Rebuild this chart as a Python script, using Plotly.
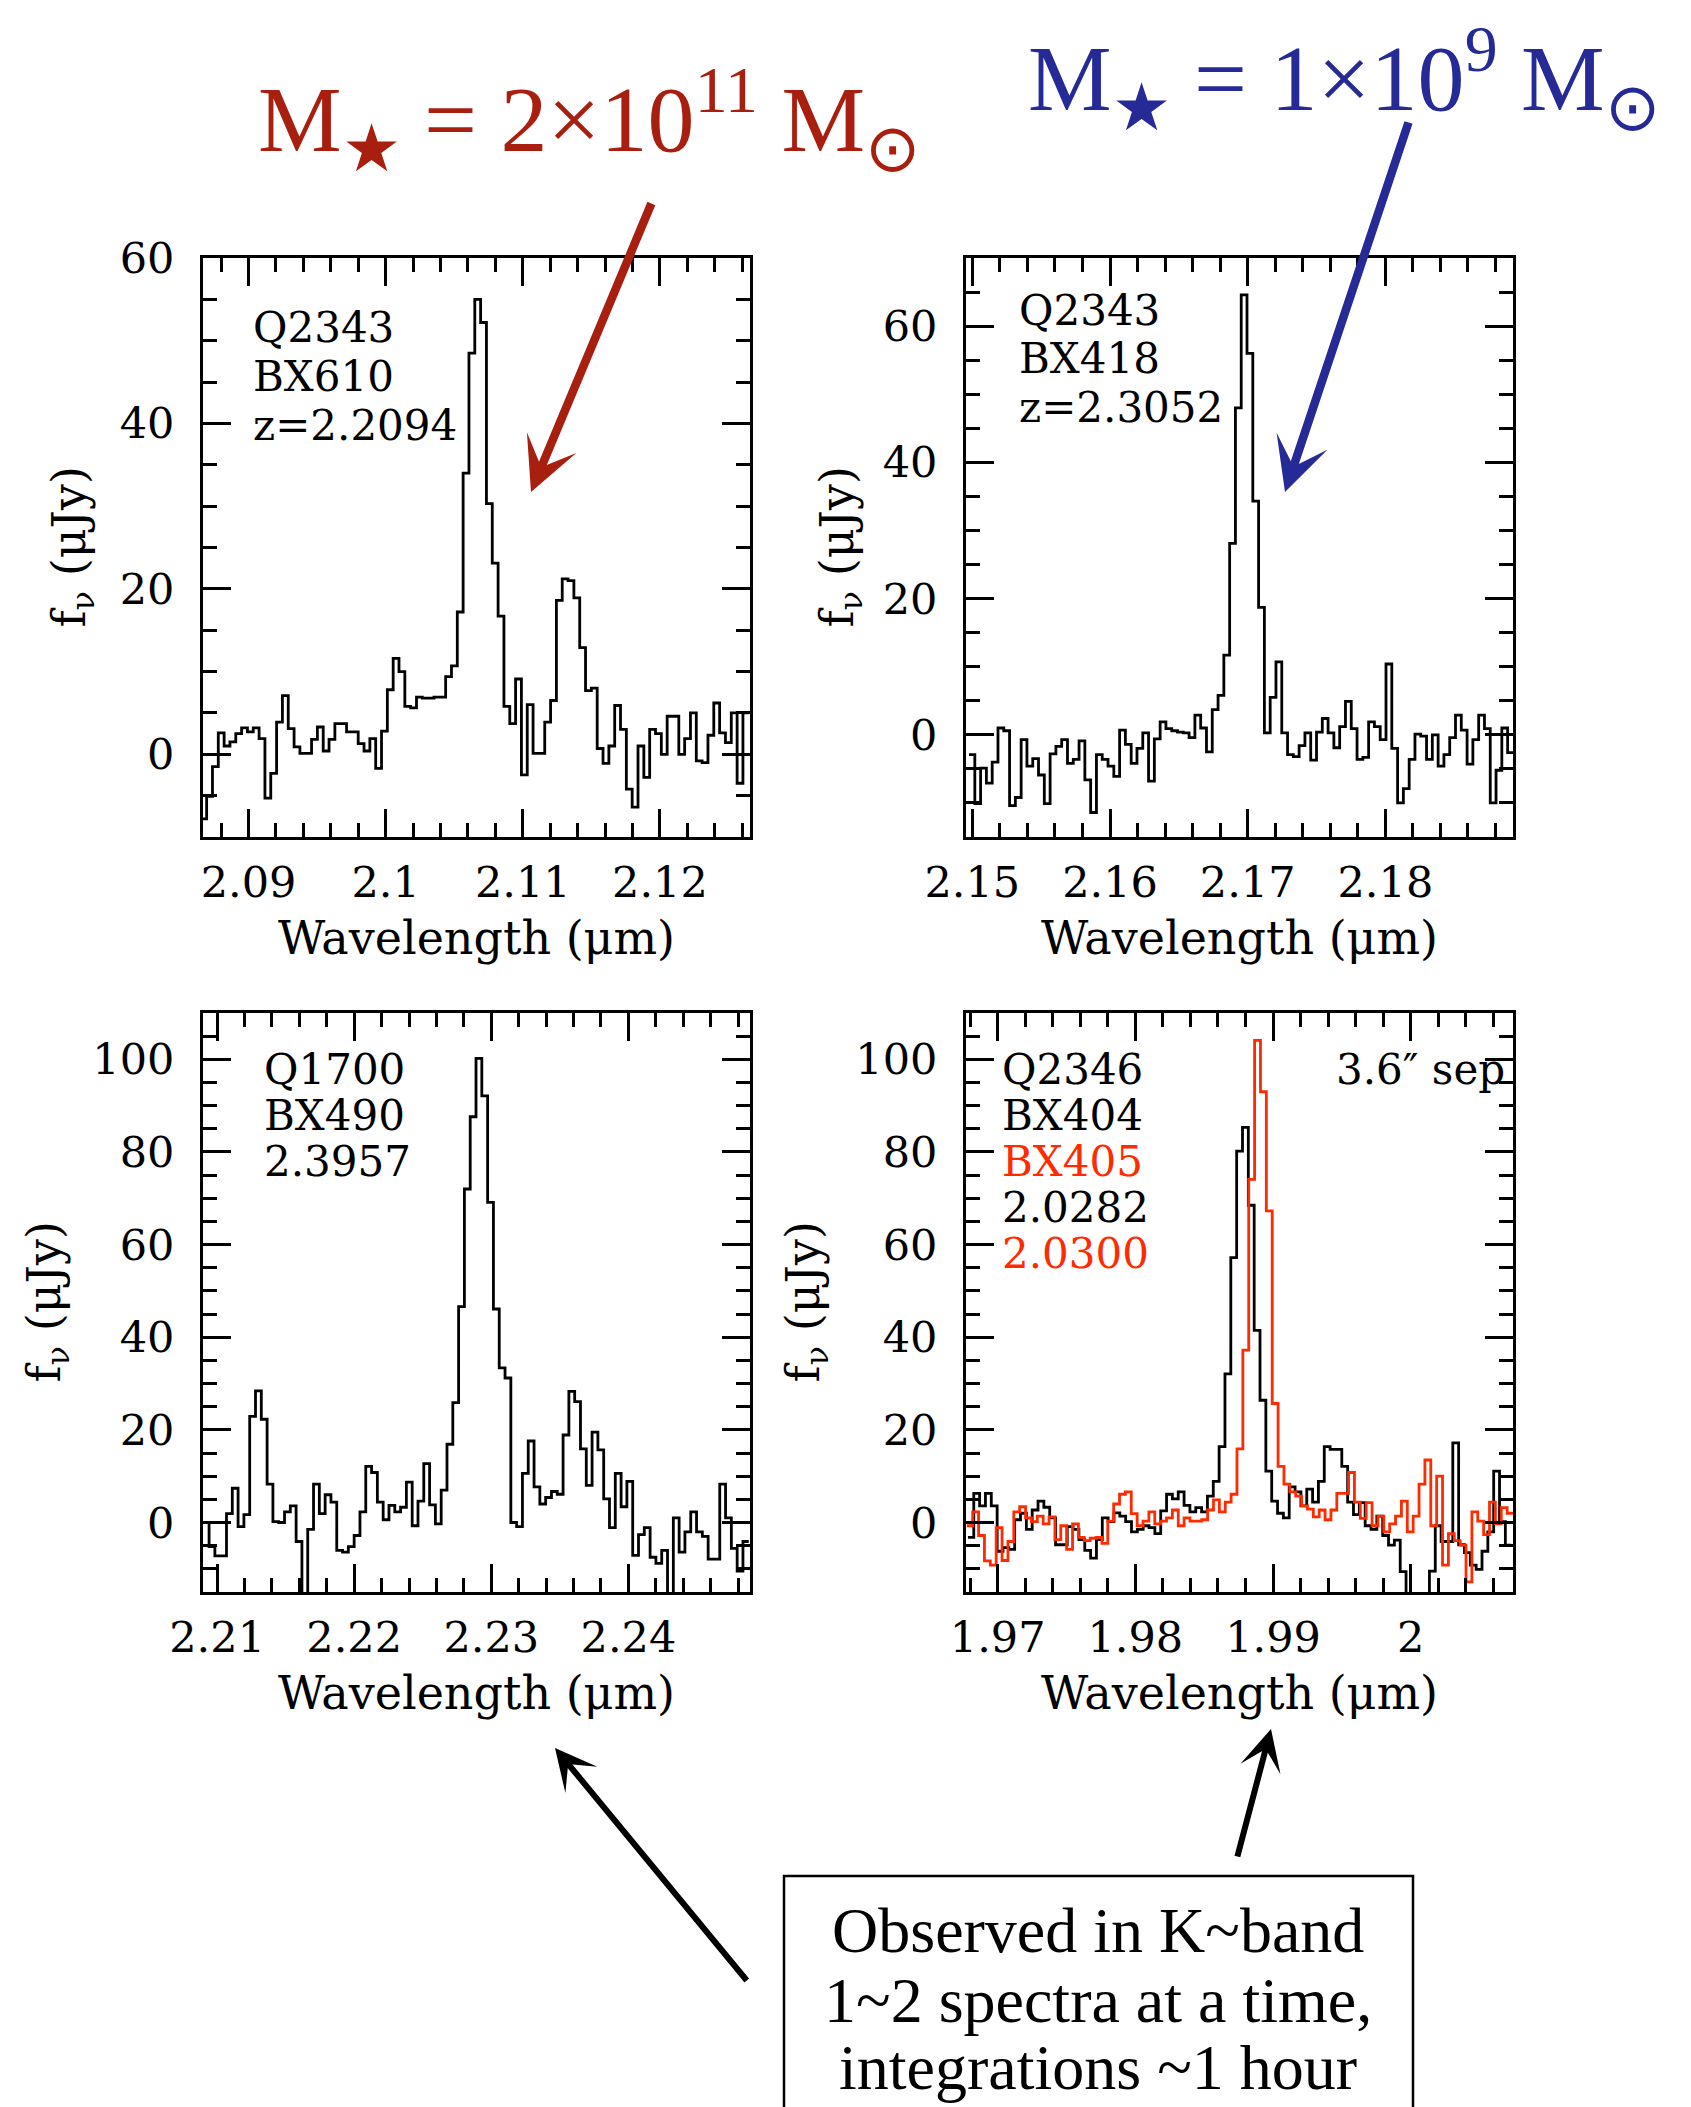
import numpy as np
import plotly.graph_objects as go

W, H = 1691, 2107

# ---------------- data ----------------
# Panel 1: Q2343-BX610
p1_flux = [-7.8, -5.1, -1.5, 2.6, 1.0, 1.5, 2.5, 3.2, 2.7, 3.2,
           1.9, -5.3, -2.3, 3.9, 7.1, 3.1, 0.9, 0.1, 0.1, 1.8,
           3.3, 0.4, 1.8, 3.7, 3.7, 2.7, 2.7, 1.3, 0.4, 1.9,
           -1.7, 2.8, 7.8, 11.6, 10.0, 5.8, 5.6, 6.9, 6.8, 6.8,
           6.9, 6.9, 9.4, 10.7, 17.2, 34.0, 48.5, 55.0, 52.2, 30.3,
           23.1, 16.7, 5.8, 3.7, 9.1, -2.5, 6.0, 0.1, 0.1, 3.9,
           6.5, 18.6, 21.2, 21.0, 18.9, 12.9, 7.7, 8.0, 0.7, -1.1,
           1.0, 5.9, 3.0, -4.2, -6.4, 1.0, -2.8, 3.0, 2.5, 0.0,
           4.6, 4.6, 0.0, 1.9, 5.0, -0.8, -1.0, 2.3, 6.2, 2.6,
           1.4, 5.0, -3.5, 5.0]
p1_lam = (2.08652, 2.12648)

# Panel 2: Q2343-BX418
p2_flux = [-2.9, -10.1, -4.9, -7.1, -4.0, 1.0, 0.6, -10.4, -9.2, -0.7,
           -4.6, -3.5, -5.9, -10.1, -2.8, -1.7, -0.7, -4.2, -3.6, -0.9,
           -6.6, -11.4, -2.9, -3.6, -4.6, -6.1, 0.7, -1.4, -4.2, -2.0,
           0.3, -6.8, -0.6, 1.9, 0.9, 0.6, 0.4, 0.3, -0.4, 2.9,
           1.0, -2.5, 3.7, 5.8, 11.7, 28.1, 48.0, 64.6, 56.0, 34.3,
           18.7, 0.3, 5.5, 10.7, 0.3, -2.9, -3.2, -1.6, 0.3, -3.7,
           0.4, 2.4, 0.3, -1.9, 1.2, 4.9, 0.9, -3.6, -3.3, 1.9,
           1.2, -0.7, 10.4, -2.0, -10.0, -7.9, -3.6, 0.1, -0.2, -3.6,
           0.0, -4.6, -2.9, -0.4, 2.9, 0.7, -4.3, -0.7, 2.9, 0.9,
           -10.0, -5.2, 1.0, -2.6]
p2_lam = (2.14976, 2.18930)

# Panel 3: Q1700-BX490
p3_flux = [0.0, -5.2, -7.2, -7.2, 1.9, 7.4, -0.9, 1.7, 22.9, 28.4,
           22.3, 8.3, 0.2, 0.0, 2.3, 3.6, -4.1, -17.0, -1.5, 8.3,
           1.9, 6.0, 4.4, -6.0, -6.4, -5.2, -2.8, 2.3, 12.1, 10.8,
           4.4, 0.6, 3.7, 2.3, 3.3, 8.7, -0.7, 4.6, 12.7, 3.8,
           -0.3, 7.0, 16.9, 25.9, 46.6, 72.0, 87.6, 100.2, 92.1, 69.1,
           46.1, 33.4, 31.2, 0.0, -0.9, 10.6, 17.6, 7.7, 4.0, 5.4,
           6.7, 6.1, 18.9, 28.3, 26.1, 15.9, 8.0, 19.5, 15.7, 5.1,
           -1.1, 10.6, 3.4, 8.9, -7.1, -2.6, -1.1, -7.5, -8.8, -6.0,
           -17.0, 1.0, -6.4, -2.0, 2.3, -2.0, -3.0, -7.9, -7.9, 8.3,
           1.0, -5.6, -10.5, -4.1]
p3_lam = (2.20899, 2.24878)

# Panel 4: Q2346-BX404 (black) and BX405 (red)
p4a_flux = [-3.2, 6.3, 3.6, 6.3, 3.6, -6.2, -5.4, -5.8, 0.6, 2.0,
            -1.5, 2.7, 4.6, 3.3, 1.0, -4.8, -4.8, -0.9, -1.5, -3.7,
            -6.0, -7.7, -3.7, 1.0, 0.2, 2.1, 1.4, 0.2, -2.0, -1.5,
            -0.7, -1.1, -2.4, 2.5, 6.1, 5.1, 6.6, 3.7, 2.3, 3.2,
            2.3, 5.7, 8.9, 16.4, 32.1, 57.2, 80.2, 85.3, 68.5, 41.5,
            26.4, 11.1, 4.6, 2.0, 1.0, 7.7, 6.6, 3.6, 7.2, 4.4,
            8.9, 16.4, 15.8, 15.8, 12.1, 4.4, 1.7, 4.3, -0.7, -1.5,
            1.4, -2.8, -4.9, -3.8, -10.6, -17.0, -17.0, -17.0, -17.0, -10.5,
            -0.7, -4.1, -4.1, 17.2, -4.8, -6.5, -9.2, -10.1, -6.2, -2.0,
            11.1, 0.2, -4.9]
p4a_lam = (1.96784, 2.00730)

p4b_flux = [-0.7, 2.3, -2.8, -8.3, -9.2, -1.1, -8.2, -4.1, 2.3, 3.4,
            1.0, 0.2, 1.4, -0.3, 1.2, -3.7, -0.7, -5.8, -0.3, -3.2,
            -3.9, -3.4, -3.2, -4.5, 0.3, 4.0, 6.1, 6.6, 1.9, -0.7,
            0.3, 2.3, -0.3, 0.3, 1.0, 2.7, -0.7, 1.0, 0.3, 0.3,
            0.6, 2.7, 4.9, 2.3, 4.4, 6.1, 15.9, 37.2, 74.1, 104.1,
            93.0, 67.3, 25.7, 12.1, 8.3, 6.6, 5.7, 3.6, 2.9, 1.2,
            2.7, 0.6, 2.7, 6.3, 6.3, 10.8, 4.4, 0.9, 4.3, -0.7,
            1.4, -2.0, -0.3, 1.4, 4.6, -2.0, 1.4, 8.3, 13.5, -0.7,
            10.0, -9.2, -2.4, -3.9, -4.9, -12.8, 2.3, 0.3, -2.6, 4.4,
            -0.3, 3.2, 2.0]
p4b_lam = (1.96776, 2.00743)

# axis ranges and ticks
x_ranges = [(2.08668, 2.12657), (2.14954, 2.18927), (2.20897, 2.24887), (1.96770, 2.00743)]
y_ranges = [(-10, 60), (-15, 70), (-15, 110), (-15, 110)]
x_tickvals = [[2.09, 2.10, 2.11, 2.12], [2.15, 2.16, 2.17, 2.18],
              [2.21, 2.22, 2.23, 2.24], [1.97, 1.98, 1.99, 2.00]]
x_ticktext = [["2.09", "2.1", "2.11", "2.12"], ["2.15", "2.16", "2.17", "2.18"],
              ["2.21", "2.22", "2.23", "2.24"], ["1.97", "1.98", "1.99", "2"]]
y_tickvals = [[0, 20, 40, 60], [0, 20, 40, 60], [0, 20, 40, 60, 80, 100], [0, 20, 40, 60, 80, 100]]
x_minor0 = [2.08, 2.14, 2.20, 1.96]

labels = [["Q2343", "BX610", "z=2.2094"], ["Q2343", "BX418", "z=2.3052"],
          ["Q1700", "BX490", "2.3957"], ["Q2346", "BX404", "BX405", "2.0282", "2.0300"]]
label_colors = [["black"] * 3, ["black"] * 3, ["black"] * 3,
                ["black", "black", "#ff2a00", "black", "#ff2a00"]]

RED_SPEC = "#ff2a00"
DARK_RED = "#a81f10"
BLUE = "#252a96"

# ---------------- layout geometry (pixels of the page) ----------------
OFF = 8  # default page body margin

def px(X):
    return (X - OFF) / W

def py(Y):
    return 1 - (Y - OFF) / H

col_x = [(203, 750), (966, 1513)]
row_y = [(258, 837), (1013, 1592)]
panel_pos = [(0, 0), (1, 0), (0, 1), (1, 1)]  # (col,row)

fig = go.Figure()

def steps(lam, flux):
    edges = np.linspace(lam[0], lam[1], len(flux) + 1)
    return edges, list(flux) + [flux[-1]]

series = [(0, p1_lam, p1_flux, "black"), (1, p2_lam, p2_flux, "black"),
          (2, p3_lam, p3_flux, "black"), (3, p4a_lam, p4a_flux, "black"),
          (3, p4b_lam, p4b_flux, RED_SPEC)]

for idx, lam, flux, col in series:
    xs, ys = steps(lam, flux)
    sfx = "" if idx == 0 else str(idx + 1)
    fig.add_trace(go.Scatter(x=xs, y=ys, mode="lines", line=dict(shape="hv", color=col, width=2.8),
                             xaxis="x" + sfx, yaxis="y" + sfx, showlegend=False, hoverinfo="skip"))

tickfont = dict(family="DejaVu Serif", size=43, color="black")
common = dict(showline=True, linewidth=3, linecolor="black", mirror="allticks",
              ticks="inside", ticklen=28, tickwidth=2.5, tickcolor="black",
              showgrid=False, zeroline=False, tickfont=tickfont, fixedrange=True,
              automargin=False)

layout = dict(width=W, height=H, margin=dict(l=0, r=0, t=0, b=0, pad=0, autoexpand=False),
              paper_bgcolor="white", plot_bgcolor="white", showlegend=False)

for i, (c, r) in enumerate(panel_pos):
    sfx = "" if i == 0 else str(i + 1)
    x0, x1 = col_x[c]
    y0, y1 = row_y[r]
    xa = dict(common, domain=[px(x0), px(x1)], range=list(x_ranges[i]), anchor="y" + sfx,
              tickmode="array", tickvals=x_tickvals[i], ticktext=x_ticktext[i],
              ticklabelstandoff=5,
              minor=dict(ticks="inside", ticklen=14, tickwidth=2.5, tickcolor="black",
                         tickmode="linear", tick0=x_minor0[i], dtick=0.002, showgrid=False))
    ya = dict(common, domain=[py(y1), py(y0)], range=list(y_ranges[i]), anchor="x" + sfx,
              tickmode="array", tickvals=y_tickvals[i],
              ticklabelstandoff=17,
              minor=dict(ticks="inside", ticklen=14, tickwidth=2.5, tickcolor="black",
                         tickmode="linear", tick0=0, dtick=5, showgrid=False))
    layout["xaxis" + sfx] = xa
    layout["yaxis" + sfx] = ya

fig.update_layout(**layout)

ann = []
# axis titles
ytitle_x = [72, 840, 47, 806]
for i, (c, r) in enumerate(panel_pos):
    x0, x1 = col_x[c]
    y0, y1 = row_y[r]
    ann.append(dict(text="f<sub>ν</sub> (μJy)", x=px(ytitle_x[i]), y=py((y0 + y1) / 2),
                    xref="paper", yref="paper", showarrow=False, textangle=-90,
                    xanchor="center", yanchor="middle",
                    font=dict(family="DejaVu Serif", size=46, color="black")))
    ann.append(dict(text="Wavelength (μm)", x=px((x0 + x1) / 2), y=py(y1 + 101),
                    xref="paper", yref="paper", showarrow=False,
                    xanchor="center", yanchor="middle",
                    font=dict(family="DejaVu Serif", size=46, color="black")))

# inner labels
lab_x = [251, 1017, 262, 1000]
lab_y0 = [327, 311, 1069, 1069]
lab_dy = [49.5, 48, 46, 46]
for i in range(4):
    for j, t in enumerate(labels[i]):
        ann.append(dict(text=t, x=px(lab_x[i]), y=py(lab_y0[i] + j * lab_dy[i]),
                        xref="paper", yref="paper", showarrow=False,
                        xanchor="left", yanchor="middle",
                        font=dict(family="DejaVu Serif", size=42, color=label_colors[i][j])))
ann.append(dict(text="3.6″ sep", x=px(1507), y=py(1069), xref="paper", yref="paper",
                showarrow=False, xanchor="right", yanchor="middle",
                font=dict(family="DejaVu Serif", size=42, color="black")))

# stellar mass headings
ann.append(dict(text="M<sub>★</sub> = 2×10<sup>11</sup> M<sub>⊙</sub>", x=px(589), y=py(119),
                xref="paper", yref="paper", showarrow=False, xanchor="center", yanchor="middle",
                font=dict(family="Liberation Serif", size=94, color=DARK_RED)))
ann.append(dict(text="M<sub>★</sub> = 1×10<sup>9</sup> M<sub>⊙</sub>", x=px(1344), y=py(10),
                xref="paper", yref="paper", showarrow=False, xanchor="center", yanchor="top",
                font=dict(family="Liberation Serif", size=94, color=BLUE)))

# arrows
arrows = [((531, 492), (652, 202), DARK_RED, 8.5, 1.05),
          ((1285, 492), (1409, 121), BLUE, 8.5, 1.05),
          ((555, 1748), (748, 1982), "black", 6, 1.15),
          ((1271, 1729), (1237, 1858), "black", 6, 1.15)]
for (hx, hy), (tx, ty), col, w, s in arrows:
    ann.append(dict(text="", x=px(hx), y=py(hy), xref="paper", yref="paper",
                    showarrow=True, ax=tx - hx, ay=ty - hy, axref="pixel", ayref="pixel",
                    arrowhead=3, arrowwidth=w, arrowsize=s, arrowcolor=col, standoff=0))

# box text
box_lines = ["Observed in K~band", "1~2 spectra at a time,", "integrations ~1 hour"]
box_y = [1930, 2000, 2067]
for t, yy in zip(box_lines, box_y):
    ann.append(dict(text=t, x=px(1098), y=py(yy), xref="paper", yref="paper", showarrow=False,
                    xanchor="center", yanchor="middle",
                    font=dict(family="Liberation Serif", size=64, color="black")))

fig.update_layout(annotations=ann)
fig.add_shape(type="rect", xref="paper", yref="paper", x0=px(784), x1=px(1413),
              y0=py(2140), y1=py(1876), line=dict(color="black", width=2.5))

fig.write_html("out.html")
